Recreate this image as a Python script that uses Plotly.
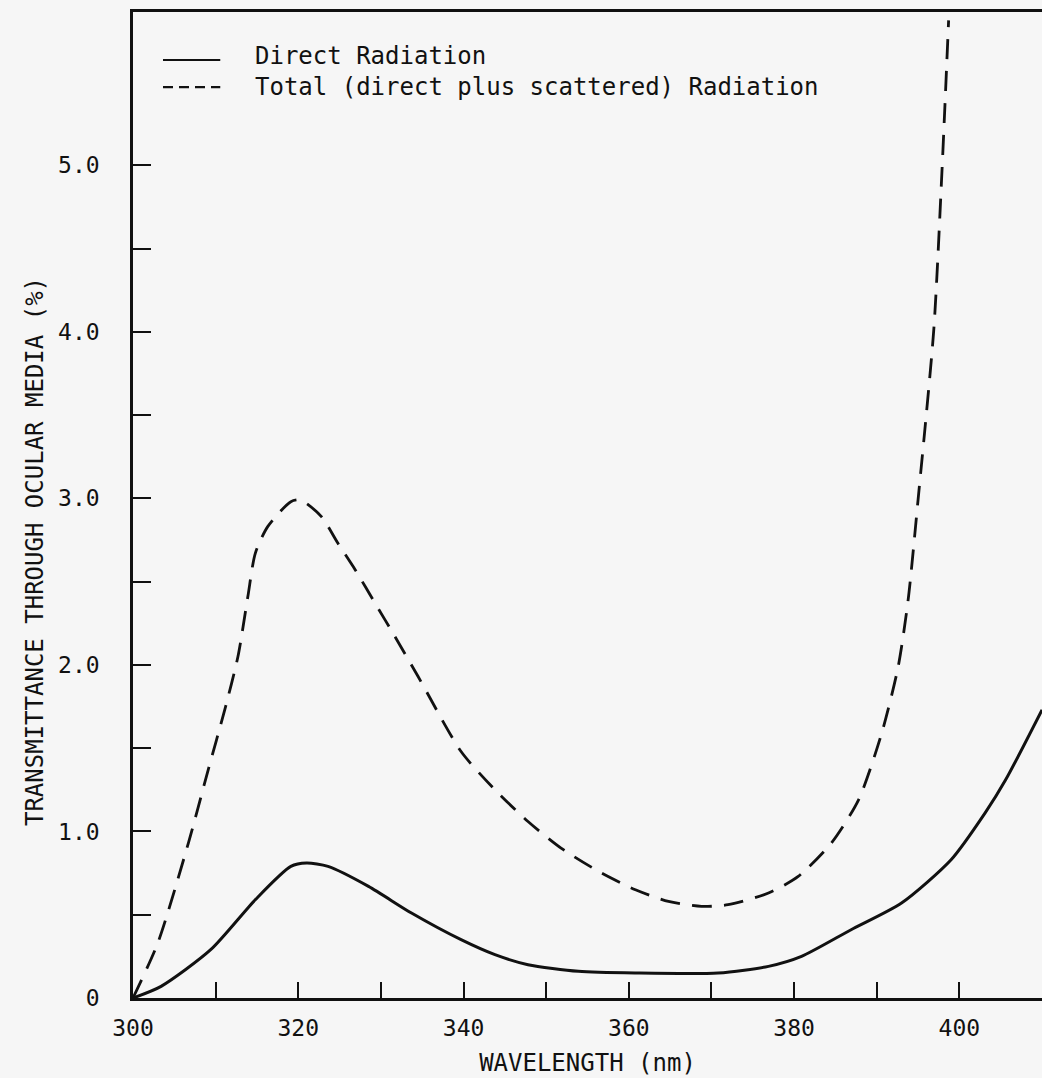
import plotly.graph_objects as go

# Direct radiation (solid)
direct_wl = [300, 303.4, 309.4, 314.8, 319.1, 321.0, 323.6, 328.5, 333.7, 339.7, 343.8, 347.8,
             353.9, 360.8, 370.8, 376.9, 380.9, 386.9, 393.0, 399.0, 403.1, 405.6, 410.0]
direct_t = [0, 0.07, 0.29, 0.59, 0.79, 0.81, 0.79, 0.67, 0.51, 0.35, 0.26, 0.20,
            0.16, 0.15, 0.15, 0.19, 0.25, 0.41, 0.57, 0.83, 1.11, 1.31, 1.73]

# Total (direct plus scattered) radiation (dashed)
total_wl = [300, 303.0, 306.7, 309.1, 311.1, 312.7, 313.9, 314.8, 316.3, 319.1, 320.3, 322.8,
            324.8, 326.9, 329.3, 331.7, 334.5, 339.7, 343.8, 347.8, 351.8, 356.7, 360.8,
            364.8, 368.8, 372.0, 376.9, 380.5, 384.5, 387.8, 390.6, 392.6, 393.8, 395.0,
            396.9, 397.9, 398.7]
total_t = [0, 0.33, 0.93, 1.37, 1.73, 2.05, 2.41, 2.67, 2.83, 2.98, 2.99, 2.89,
           2.73, 2.57, 2.37, 2.17, 1.93, 1.48, 1.25, 1.06, 0.90, 0.75, 0.65,
           0.58, 0.55, 0.56, 0.63, 0.73, 0.93, 1.19, 1.59, 1.99, 2.39, 2.99,
           4.01, 4.97, 5.87]

x_tickvals = [300, 310, 320, 330, 340, 350, 360, 370, 380, 390, 400]
x_ticktext = ["300", "", "320", "", "340", "", "360", "", "380", "", "400"]
y_tickvals = [0, 0.5, 1.0, 1.5, 2.0, 2.5, 3.0, 3.5, 4.0, 4.5, 5.0]
y_ticktext = ["0", "", "1.0", "", "2.0", "", "3.0", "", "4.0", "", "5.0"]

legend_labels = ["Direct Radiation", "Total (direct plus scattered) Radiation"]
x_title = "WAVELENGTH (nm)"
y_title = "TRANSMITTANCE THROUGH OCULAR MEDIA (%)"

FONT = "DejaVu Sans Mono"
INK = "#111111"
BG = "#f6f6f6"

fig = go.Figure()
fig.add_trace(go.Scatter(x=direct_wl, y=direct_t, mode="lines", name=legend_labels[0],
                         line=dict(color=INK, width=3, shape="spline", smoothing=0.7)))
fig.add_trace(go.Scatter(x=total_wl, y=total_t, mode="lines", name=legend_labels[1],
                         line=dict(color=INK, width=2.8, dash="20px,12px", shape="spline", smoothing=0.7)))

# legend drawn as in the original figure
fig.add_shape(type="line", xref="paper", yref="paper", x0=0.033, x1=0.096, y0=0.9513, y1=0.9513,
              line=dict(color=INK, width=2))
fig.add_shape(type="line", xref="paper", yref="paper", x0=0.033, x1=0.096, y0=0.9239, y1=0.9239,
              line=dict(color=INK, width=2.2, dash="10px,6px"))
fig.add_annotation(xref="paper", yref="paper", x=0.132, y=0.9554, text=legend_labels[0],
                   showarrow=False, xanchor="left", yanchor="middle",
                   font=dict(family=FONT, size=24, color=INK))
fig.add_annotation(xref="paper", yref="paper", x=0.132, y=0.9239, text=legend_labels[1],
                   showarrow=False, xanchor="left", yanchor="middle",
                   font=dict(family=FONT, size=24, color=INK))
# y-axis title (placed as in the original, lower than centre)
fig.add_annotation(xref="paper", yref="paper", x=-0.1078, y=0.4523, text=y_title,
                   textangle=-90, showarrow=False, xanchor="center", yanchor="middle",
                   font=dict(family=FONT, size=24, color=INK))

fig.update_layout(
    width=1042, height=1078,
    margin=dict(l=133, r=0, t=12, b=80),
    paper_bgcolor=BG, plot_bgcolor=BG,
    showlegend=False,
    font=dict(family=FONT, size=23, color=INK),
)
fig.update_xaxes(range=[300, 410], tickvals=x_tickvals, ticktext=x_ticktext,
                 ticks="inside", ticklen=16, tickwidth=2, tickcolor=INK,
                 showline=True, linewidth=2.5, linecolor=INK, mirror=True,
                 showgrid=False, zeroline=False, ticklabelstandoff=8,
                 title=dict(text=x_title, font=dict(family=FONT, size=24, color=INK), standoff=14))
fig.update_yaxes(range=[0, 5.92], tickvals=y_tickvals, ticktext=y_ticktext,
                 ticks="inside", ticklen=18, tickwidth=2, tickcolor=INK,
                 showline=True, linewidth=2.5, linecolor=INK, mirror=False,
                 showgrid=False, zeroline=False, ticklabelstandoff=26)

fig.write_html("out.html")
